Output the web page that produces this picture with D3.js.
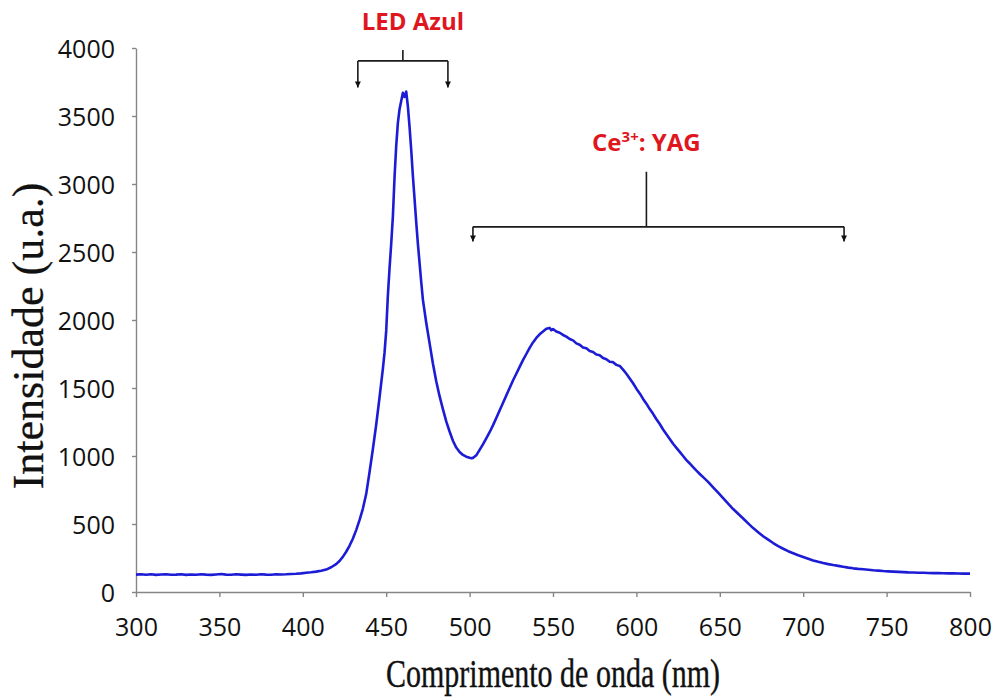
<!DOCTYPE html>
<html>
<head>
<meta charset="utf-8">
<script src="https://cdn.jsdelivr.net/npm/d3@7"></script>
<style>
  html, body { margin: 0; padding: 0; background: #fff; }
  svg { display: block; }
</style>
</head>
<body>
<svg id="chart" width="1005" height="697"></svg>
<script>
// Emission spectrum of a white LED: blue LED band + Ce3+:YAG phosphor band
const wavelengths = [
  300,303,306,309,312,315,318,321,324,327,330,333,336,339,342,345,348,351,354,357,
  360,363,366,369,372,375,378,381,384,387,390,393,396,399,402,405,408,411,414,417,
  420,422,424,426,428,430,432,434,436,438,440,442,444,446,448,449,450,451,452,453,
  454,455,456,457,458,459,460,461,462,463,464,465,466,467,468,469,470,471,472,474,
  476,478,480,482,484,486,488,490,492,494,496,498,500,501,502,504,506,508,510,512,
  514,516,518,520,522,524,526,528,530,532,534,536,538,540,542,544,546,548,549,550,
  552,554,556,558,560,562,564,566,568,570,572,574,576,578,580,582,584,586,588,590,
  592,594,596,598,600,602,604,606,608,610,612,614,616,618,620,622,624,626,628,630,
  632,634,636,638,640,643,646,649,652,655,658,661,664,667,670,673,676,679,682,685,
  688,691,694,697,700,703,706,709,712,715,718,721,724,727,730,733,736,739,742,745,
  748,751,754,757,760,763,766,769,772,775,778,781,784,787,790,793,796,800
];
const intensity = [
  128,131,127,130,126,129,131,127,128,130,126,129,127,131,128,126,129,132,128,127,
  130,128,126,129,127,130,128,127,131,129,130,132,134,137,141,145,150,156,165,182,
  205,228,258,296,340,392,455,528,612,720,880,1050,1230,1430,1640,1760,1920,2180,2380,2560,
  2760,3050,3280,3450,3550,3610,3670,3640,3680,3570,3420,3250,3060,2890,2720,2560,2420,2280,2150,1980,
  1830,1680,1550,1440,1345,1255,1180,1112,1062,1030,1008,995,987,984,986,1005,1045,1085,1130,1175,
  1225,1280,1335,1390,1445,1500,1555,1605,1655,1705,1750,1795,1835,1868,1895,1915,1935,1942,1925,1934,
  1915,1906,1890,1878,1860,1850,1828,1818,1798,1792,1772,1765,1746,1741,1720,1712,1693,1690,1670,1662,
  1635,1605,1570,1535,1495,1460,1420,1385,1345,1310,1270,1235,1195,1160,1125,1090,1060,1030,1000,970,
  945,918,892,868,845,810,770,730,690,650,610,575,540,505,470,440,410,385,360,338,
  318,300,285,270,258,245,232,222,213,205,198,192,185,179,174,170,167,164,160,157,
  154,152,150,148,146,144,143,141,141,140,139,139,138,137,137,136,135,135
];
const spectrum = wavelengths.map((w, i) => ({ w, v: intensity[i] }));

// Axis ticks and titles
const xTicks = [300, 350, 400, 450, 500, 550, 600, 650, 700, 750, 800];
const yTicks = [0, 500, 1000, 1500, 2000, 2500, 3000, 3500, 4000];
const xTitle = "Comprimento de onda (nm)";
const yTitle = "Intensidade (u.a.)";

// Band annotations (bracket ends and stem in nm, levels in intensity units)
const ledBand = { label: "LED Azul", from: 433, to: 487, stem: 460, textAt: 466,
                  textLevel: 4135, stemTop: 3985, bar: 3905, tip: 3710 };
const yagBand = { from: 502, to: 724.5, stem: 606, textAt: 606,
                  textLevel: 3240, stemTop: 3090, bar: 2685, tip: 2578 };

const svg = d3.select("#chart");
const x = d3.scaleLinear().domain([300, 800]).range([136, 970]);
const y = d3.scaleLinear().domain([0, 4000]).range([592, 48]);

const axisColor = "#868686";
const tickFont = "'Open Sans', 'Liberation Sans', sans-serif";

// X axis
const gx = svg.append("g").attr("transform", `translate(0,${y(0)})`)
  .call(d3.axisBottom(x).tickValues(xTicks).tickSize(5).tickSizeOuter(0).tickFormat(d3.format("d")));
gx.select(".domain").attr("stroke", axisColor).attr("stroke-width", 1.4);
gx.selectAll(".tick line").attr("stroke", axisColor).attr("stroke-width", 1.4);
gx.selectAll(".tick text")
  .attr("y", 44).attr("dy", 0)
  .attr("fill", "#111").style("font-family", tickFont).style("font-size", "25px");

// Y axis
const gy = svg.append("g").attr("transform", `translate(${x(300)},0)`)
  .call(d3.axisLeft(y).tickValues(yTicks).tickSize(4).tickSizeOuter(0).tickFormat(d3.format("d")));
gy.select(".domain").attr("stroke", axisColor).attr("stroke-width", 1.4);
gy.selectAll(".tick line").attr("stroke", axisColor).attr("stroke-width", 1.4);
gy.selectAll(".tick text")
  .attr("x", -21).attr("dy", "0.36em")
  .attr("fill", "#111").style("font-family", tickFont).style("font-size", "25px");

// Axis titles (the horizontal one is drawn in a taller, condensed face)
svg.append("text")
  .attr("transform", "translate(553,687) scale(1,1.35)")
  .attr("text-anchor", "middle")
  .style("font-family", "'Liberation Serif', 'DejaVu Serif', serif")
  .style("font-size", "30px")
  .attr("fill", "#111")
  .attr("stroke", "#111").attr("stroke-width", 0.3)
  .text(xTitle);

svg.append("text")
  .attr("transform", "translate(43,336) rotate(-90)")
  .attr("text-anchor", "middle")
  .style("font-family", "'Liberation Serif', 'DejaVu Serif', serif")
  .style("font-size", "44px")
  .attr("fill", "#111")
  .attr("stroke", "#111").attr("stroke-width", 0.3)
  .text(yTitle);

// Spectrum line
const line = d3.line().x(d => x(d.w)).y(d => y(d.v)).curve(d3.curveLinear);
svg.append("path")
  .datum(spectrum)
  .attr("d", line)
  .attr("fill", "none")
  .attr("stroke", "#1c1cd6")
  .attr("stroke-width", 2.6)
  .attr("stroke-linejoin", "round");

// Arrowhead marker for the brackets
svg.append("defs").append("marker")
  .attr("id", "arrowDown")
  .attr("viewBox", "0 0 10 10")
  .attr("refX", 5).attr("refY", 10)
  .attr("markerUnits", "userSpaceOnUse")
  .attr("markerWidth", 6).attr("markerHeight", 7)
  .attr("orient", "0")
  .append("path").attr("d", "M0,0 L10,0 L5,10 Z").attr("fill", "#111");

function bracket(b) {
  const g = svg.append("g").attr("stroke", "#1a1a1a").attr("stroke-width", 1.6).attr("fill", "none");
  g.append("line").attr("x1", x(b.stem)).attr("x2", x(b.stem)).attr("y1", y(b.stemTop)).attr("y2", y(b.bar));
  g.append("line").attr("x1", x(b.from)).attr("x2", x(b.to)).attr("y1", y(b.bar)).attr("y2", y(b.bar));
  [b.from, b.to].forEach(e => {
    g.append("line").attr("x1", x(e)).attr("x2", x(e)).attr("y1", y(b.bar)).attr("y2", y(b.tip))
      .attr("marker-end", "url(#arrowDown)");
  });
}
bracket(ledBand);
bracket(yagBand);

const labelRed = "#e0161e";
const labelFont = "'Open Sans', 'Liberation Sans', sans-serif";

svg.append("text")
  .attr("x", x(ledBand.textAt)).attr("y", y(ledBand.textLevel))
  .attr("text-anchor", "middle")
  .style("font-family", labelFont).style("font-size", "24px").style("font-weight", "bold")
  .attr("fill", labelRed)
  .text(ledBand.label);

const yagText = svg.append("text")
  .attr("x", x(yagBand.textAt)).attr("y", y(yagBand.textLevel))
  .attr("text-anchor", "middle")
  .style("font-family", labelFont).style("font-size", "24px").style("font-weight", "bold")
  .attr("fill", labelRed);
yagText.append("tspan").text("Ce");
yagText.append("tspan").attr("dy", -9).style("font-size", "15px").text("3+");
yagText.append("tspan").attr("dy", 9).text(": YAG");
</script>
</body>
</html>
